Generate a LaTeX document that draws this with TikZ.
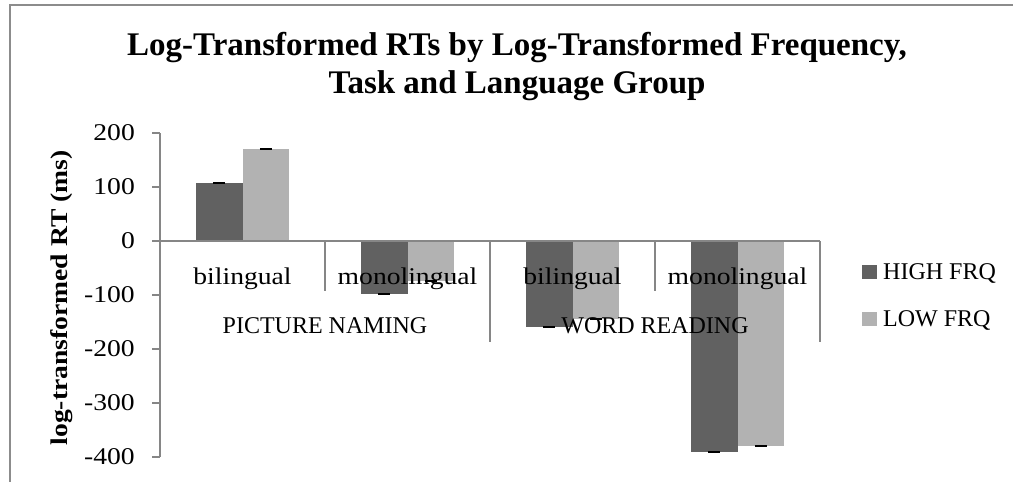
\documentclass[tikz,border=0pt]{standalone}
\usepackage{fontspec}
\setmainfont{Liberation Serif}[FakeStretch=1.15]
\newfontfamily\capsfont{Liberation Serif}
\definecolor{hicol}{RGB}{97,97,97}
\definecolor{locol}{RGB}{178,178,178}
\definecolor{axisgray}{RGB}{134,134,134}
\definecolor{framegray}{RGB}{140,140,140}
\newcommand\catbars[3]{%
  \fill[hicol] ({196+165*#1},241) rectangle ({242.5+165*#1},{241-0.54*#2});
  \fill[locol] ({242.5+165*#1},241) rectangle ({289+165*#1},{241-0.54*#3});
  \draw[errbar] ({213.25+165*#1},{241-0.54*#2}) -- ++(12,0);
  \draw[errbar] ({259.75+165*#1},{241-0.54*#3}) -- ++(12,0);
}
\begin{document}
\begin{tikzpicture}[x=1pt,y=-1pt,
  txt/.style={inner sep=0pt, font=\fontsize{24}{28}\selectfont},
  capstxt/.style={inner sep=0pt, font=\capsfont\fontsize{24}{28}\selectfont},
  ttl/.style={inner sep=0pt, font=\capsfont\bfseries\fontsize{33}{38}\selectfont},
  axisline/.style={draw=axisgray, line width=1.5pt},
  framel/.style={draw=framegray, line width=2pt},
  errbar/.style={draw=black, line width=2pt}
]
\useasboundingbox (0,0) rectangle (1013,482);
\fill[white] (0,0) rectangle (1013,482);
% frame
\draw[framel] (10,482) -- (10,5) -- (1013,5);
% title
\node[ttl, anchor=base] (title1) at (517,55) {Log-Transformed RTs by Log-Transformed Frequency,};
\node[ttl, anchor=base] (title2) at (517,93) {Task and Language Group};
% bars
\catbars{0}{107}{170}
\catbars{1}{-98}{-74}
\catbars{2}{-160}{-145}
\catbars{3}{-391}{-380}
% axes
\draw[axisline] (160,133) -- (160,457);
\foreach \v [count=\i] in {200,100,0,-100,-200,-300,-400}{
  \draw[axisline] (152,{241-0.54*\v}) -- (160,{241-0.54*\v});
  \node[txt, anchor=east] (ytick\i) at (135,{241-0.54*\v}) {\v};
}
\draw[axisline] (160,241) -- (820,241);
\draw[axisline] (325,241) -- (325,291);
\draw[axisline] (655,241) -- (655,291);
\draw[axisline] (490,241) -- (490,342);
\draw[axisline] (820,241) -- (820,342);
% y label
\node[txt, font=\fontsize{24}{28}\selectfont\bfseries, rotate=90] (ylab) at (62,298) {log-transformed RT (ms)};
% category labels
\node[txt, anchor=base] (c1) at (242.5,284) {bilingual};
\node[txt, anchor=base] (c2) at (407.5,284) {monolingual};
\node[txt, anchor=base] (c3) at (572.5,284) {bilingual};
\node[txt, anchor=base] (c4) at (737.5,284) {monolingual};
\node[capstxt, anchor=base] (g1) at (325,333) {PICTURE NAMING};
\node[capstxt, anchor=base] (g2) at (655,333) {WORD READING};
% legend
\fill[hicol] (862,265) rectangle (877,279);
\fill[locol] (862,312) rectangle (877,326);
\node[capstxt, anchor=base west] (leg1) at (883,279) {HIGH FRQ};
\node[capstxt, anchor=base west] (leg2) at (883,326) {LOW FRQ};
\end{tikzpicture}
\end{document}
